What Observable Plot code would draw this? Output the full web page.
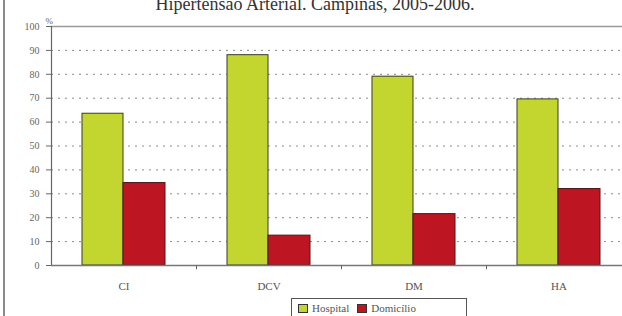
<!DOCTYPE html>
<html>
<head>
<meta charset="utf-8">
<script src="https://cdn.jsdelivr.net/npm/d3@7"></script>
<script src="https://cdn.jsdelivr.net/npm/@observablehq/plot@0.6"></script>
<style>
  html, body { margin: 0; padding: 0; background: #fff; }
  #wrap { position: relative; width: 622px; height: 316px; overflow: hidden; background: #fff; }
  #title { position: absolute; top: -5px; left: 0; width: 630px; text-align: center;
    font-family: "Liberation Serif", serif; font-size: 18px; line-height: 18px; color: #333; white-space: nowrap; }
  #border { position: absolute; left: 3px; top: 0; width: 2px; height: 316px; background: #8a8a8a; }
  #legend { position: absolute; left: 291px; top: 298px; width: 176px; height: 22px; border: 1px solid #555;
    background: #fff; font-family: "Liberation Serif", serif; font-size: 11px; color: #555;
    display: flex; align-items: flex-start; padding-top: 3px; box-sizing: border-box; padding-left: 6px; gap: 4px; }
  .item { display: flex; align-items: center; gap: 4px; margin-right: 4px; }
  .sw { width: 8px; height: 7px; border: 1px solid #333; display: inline-block; }
</style>
</head>
<body>
<div id="wrap">
  <div id="chart"></div>
  <div id="title">Hipertensão Arterial. Campinas, 2005-2006.</div>
  <div id="border"></div>
  <div id="legend"></div>
</div>
<script>
const categories = ["CI", "DCV", "DM", "HA"];
const hospital = [63.5, 88, 79, 69.5];
const domicilio = [34.5, 12.5, 21.5, 32];
const seriesNames = ["Hospital", "Domicílio"];
const seriesColors = ["#c3d630", "#bd1522"];
const yTicks = [0, 10, 20, 30, 40, 50, 60, 70, 80, 90, 100];

const data = categories.map((c, i) => ({cat: c, hospital: hospital[i], domicilio: domicilio[i]}));

const plot = Plot.plot({
  width: 622,
  height: 316,
  marginLeft: 51,
  marginRight: 0,
  marginTop: 26,
  marginBottom: 51,
  style: {fontFamily: "Liberation Serif, serif", fontSize: "10px", color: "#555", background: "transparent"},
  x: {type: "band", domain: categories, range: [51, 631], padding: 0},
  y: {domain: [0, 100], range: [265, 26]},
  marks: [
    Plot.ruleY(yTicks.filter(v => v > 0 && v < 100), {stroke: "#8a8a8a", strokeDasharray: "2,5", strokeWidth: 1}),
    Plot.ruleY([100], {stroke: "#9a9a9a", strokeWidth: 1.5}),
    Plot.barY(data, {x: "cat", y: "hospital", fill: seriesColors[0], stroke: "#3b3b2b", strokeWidth: 1, insetLeft: 31, insetRight: 73}),
    Plot.barY(data, {x: "cat", y: "domicilio", fill: seriesColors[1], stroke: "#4a1a1a", strokeWidth: 1, insetLeft: 72, insetRight: 31}),
    Plot.ruleY([0], {stroke: "#777", strokeWidth: 1.5}),
    Plot.ruleX([categories[0]], {dx: -72.5, stroke: "#666", strokeWidth: 1.2}),
    Plot.ruleX(categories.slice(1), {dx: -72.5, y1: 0, y2: -1.8, stroke: "#666"}),
    Plot.axisY({ticks: yTicks, tickSize: 5, tickPadding: 7, color: "#666", fontSize: 10, label: null}),
    Plot.axisX({tickSize: 0, tickPadding: 17, color: "#555", fontSize: 11, label: null}),
    Plot.text(["%"], {frameAnchor: "top-left", dx: -6, dy: -9, fill: "#666", fontSize: 9})
  ]
});
document.getElementById("chart").appendChild(plot);

const legend = document.getElementById("legend");
seriesNames.forEach((name, i) => {
  const item = document.createElement("span");
  item.className = "item";
  const sw = document.createElement("span");
  sw.className = "sw";
  sw.style.background = seriesColors[i];
  item.appendChild(sw);
  item.appendChild(document.createTextNode(name));
  legend.appendChild(item);
});
</script>
</body>
</html>
